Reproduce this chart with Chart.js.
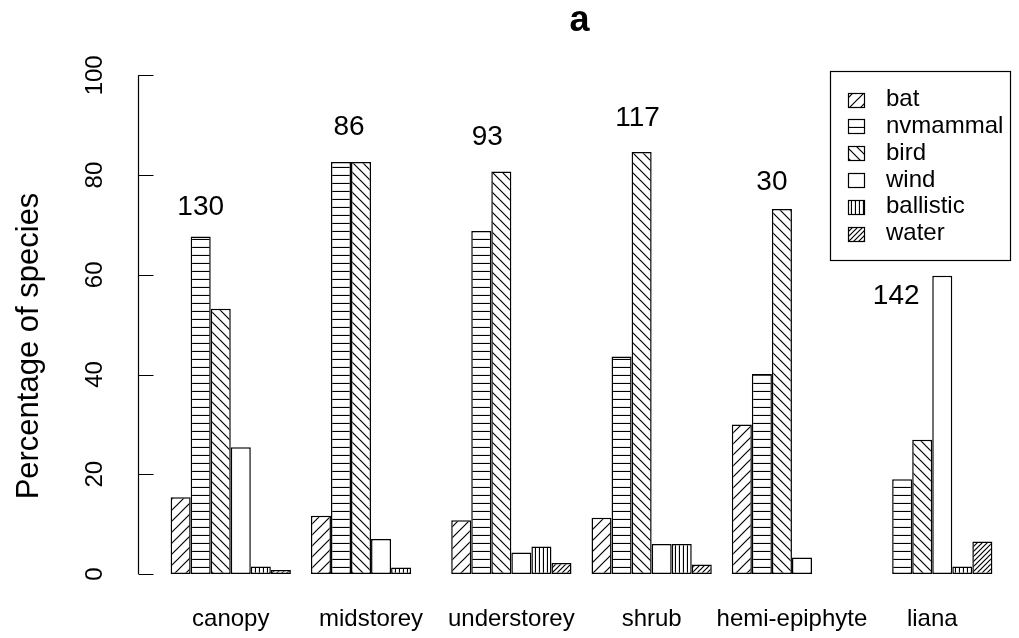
<!DOCTYPE html>
<html>
<head>
<meta charset="utf-8">
<script src="https://cdn.jsdelivr.net/npm/chart.js@4.4.1/dist/chart.umd.min.js"></script>
<style>
  html, body { margin: 0; padding: 0; background: #fff; }
  #wrap { width: 1019px; height: 638px; }
</style>
</head>
<body>
<div id="wrap"><canvas id="chart"></canvas></div>
<script>
const habitats = ["canopy", "midstorey", "understorey", "shrub", "hemi-epiphyte", "liana"]
const bat = [15.4, 11.7, 10.8, 11.3, 30.0, 0]
const nvmammal = [67.7, 82.6, 68.8, 43.6, 40.1, 19.0]
const bird = [53.2, 82.6, 80.7, 84.6, 73.2, 26.9]
const wind = [25.4, 7.0, 4.3, 6.0, 3.3, 59.8]
const ballistic = [1.5, 1.3, 5.5, 6.0, 0, 1.5]
const water = [0.8, 0, 2.2, 1.9, 0, 6.5]
const speciesCount = [130, 86, 93, 117, 30, 142]
const yTicks = [0, 20, 40, 60, 80, 100]
// where the species counts sit: height in percent, shift in bar widths from the group centre
const countY = [73.6, 89.5, 87.6, 91.4, 78.6, 55.6]
const countShift = [-1.5, -1.1, -1.2, -0.7, -1.0, -1.8]

const FONT = "'Liberation Sans', Arial, Helvetica, sans-serif"
Chart.defaults.font.family = FONT

// R style line shading as canvas patterns
function hatch(kind, gap) {
  const c = document.createElement("canvas")
  c.width = gap
  c.height = gap
  const g = c.getContext("2d")
  g.fillStyle = "#fff"
  g.fillRect(0, 0, gap, gap)
  if (kind === "none") return g.createPattern(c, "repeat")
  g.strokeStyle = "#000"
  g.lineWidth = 1.2
  g.beginPath()
  if (kind === "/") {
    g.moveTo(-1, gap + 1); g.lineTo(gap + 1, -1)
    g.moveTo(-1, 1); g.lineTo(1, -1)
    g.moveTo(gap - 1, gap + 1); g.lineTo(gap + 1, gap - 1)
  } else if (kind === "\\") {
    g.moveTo(-1, -1); g.lineTo(gap + 1, gap + 1)
    g.moveTo(gap - 1, -1); g.lineTo(gap + 1, 1)
    g.moveTo(-1, gap - 1); g.lineTo(1, gap + 1)
  } else if (kind === "-") {
    g.moveTo(0, gap - 0.5); g.lineTo(gap, gap - 0.5)
  } else if (kind === "|") {
    g.moveTo(gap - 0.5, 0); g.lineTo(gap - 0.5, gap)
  }
  g.stroke()
  return g.createPattern(c, "repeat")
}

const series = [
  { label: "bat", data: bat, fill: hatch("/", 11) },
  { label: "nvmammal", data: nvmammal, fill: hatch("-", 8) },
  { label: "bird", data: bird, fill: hatch("\\", 10) },
  { label: "wind", data: wind, fill: hatch("none", 4) },
  { label: "ballistic", data: ballistic, fill: hatch("|", 4) },
  { label: "water", data: water, fill: hatch("/", 5) },
]

const rDecor = {
  id: "rDecor",
  afterDraw(chart) {
    const { ctx, chartArea: a, scales: { x, y } } = chart
    ctx.save()
    ctx.strokeStyle = "#000"
    ctx.fillStyle = "#000"
    ctx.lineWidth = 1.2

    // y axis, drawn the way R does it
    const ax = Math.floor(a.left - 22.3) + 0.5
    ctx.beginPath()
    ctx.moveTo(ax, y.getPixelForValue(0))
    ctx.lineTo(ax, y.getPixelForValue(100))
    yTicks.forEach((v) => {
      const py = Math.round(y.getPixelForValue(v)) + 0.5
      ctx.moveTo(ax, py)
      ctx.lineTo(ax + 15, py)
    })
    ctx.stroke()

    ctx.textAlign = "center"
    ctx.textBaseline = "middle"
    ctx.font = "24px " + FONT
    yTicks.forEach((v) => {
      ctx.save()
      ctx.translate(95, y.getPixelForValue(v))
      ctx.rotate(-Math.PI / 2)
      ctx.fillText(String(v), 0, 0)
      ctx.restore()
    })

    ctx.save()
    ctx.font = "31px " + FONT
    ctx.translate(29, 346)
    ctx.rotate(-Math.PI / 2)
    ctx.fillText("Percentage of species", 0, 0)
    ctx.restore()

    // title
    ctx.font = "bold 36px " + FONT
    ctx.textBaseline = "alphabetic"
    ctx.fillText("a", (a.left + a.right) / 2 - 2, 31)

    // species counts above each group
    const bw = chart.getDatasetMeta(0).data[0].width
    ctx.font = "28px " + FONT
    ctx.textBaseline = "middle"
    speciesCount.forEach((n, i) => {
      ctx.fillText(String(n), x.getPixelForValue(i) + countShift[i] * bw, y.getPixelForValue(countY[i]))
    })

    // legend box
    const lx = 830.5, ly = 71.5, lw = 180, lh = 189
    ctx.strokeRect(lx, ly, lw, lh)
    ctx.font = "24px " + FONT
    ctx.textAlign = "left"
    series.forEach((s, i) => {
      const cy = 99.5 + i * 26.8
      ctx.fillStyle = s.fill
      ctx.fillRect(848, Math.round(cy - 7), 16, 14)
      ctx.strokeRect(848.5, Math.round(cy - 7) + 0.5, 16, 14)
      ctx.fillStyle = "#000"
      ctx.fillText(s.label, 886, cy)
    })
    ctx.restore()
  },
}

new Chart(document.getElementById("chart"), {
  type: "bar",
  data: {
    labels: habitats,
    datasets: series.map((s) => ({
      label: s.label,
      data: s.data,
      backgroundColor: s.fill,
      borderColor: "#000",
      borderWidth: 1.5,
      borderSkipped: false,
      categoryPercentage: 6 / 7,
      barPercentage: 1,
    })),
  },
  options: {
    responsive: true,
    maintainAspectRatio: false,
    animation: false,
    layout: { padding: { left: 160.6, right: 16.6, top: 75.3, bottom: 0 } },
    scales: {
      x: {
        grid: { display: false, drawTicks: false, tickLength: 0 },
        border: { display: false },
        ticks: { color: "#000", font: { size: 24 }, padding: 31, maxRotation: 0, autoSkip: false },
        afterFit: (scale) => { scale.height = 64 },
      },
      y: { display: false, min: 0, max: 100 },
    },
    plugins: {
      legend: { display: false },
      tooltip: { enabled: false },
    },
  },
  plugins: [rDecor],
})
</script>
</body>
</html>
